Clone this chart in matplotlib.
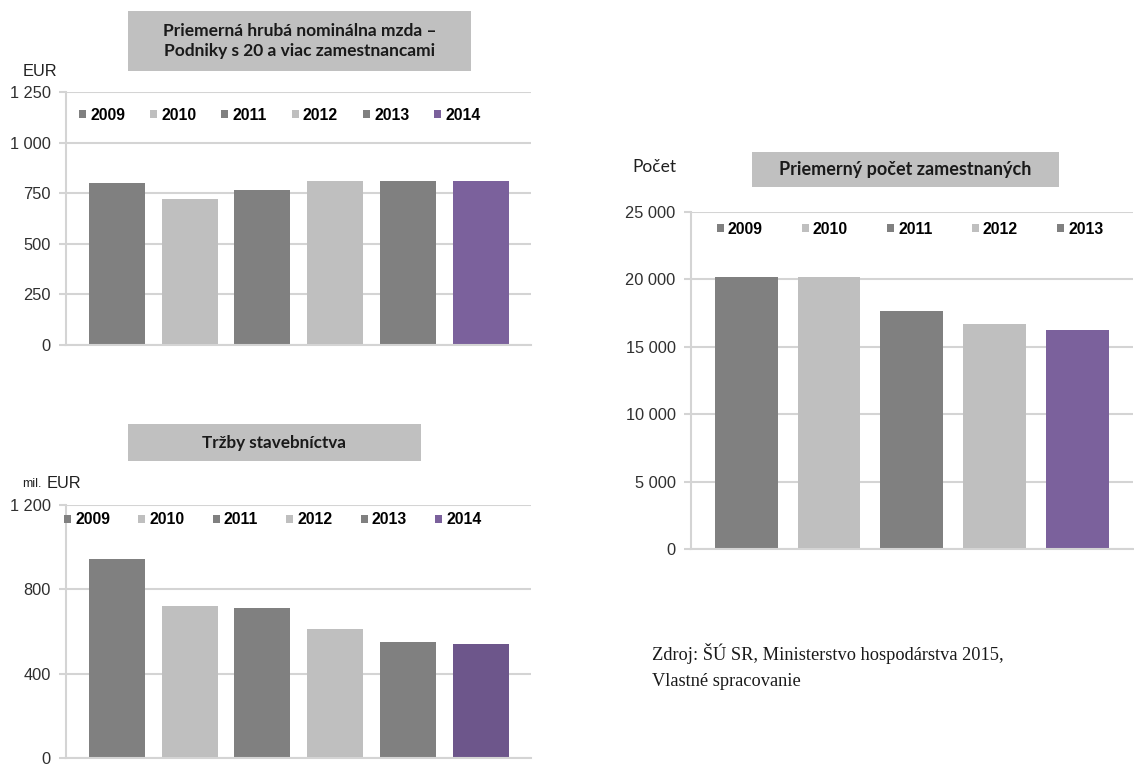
import numpy as np
import matplotlib.pyplot as plt
from matplotlib.patches import Rectangle, Patch
from matplotlib.ticker import FuncFormatter

# Data
years6 = ["2009", "2010", "2011", "2012", "2013", "2014"]
wage = [802, 720, 764, 811, 811, 811]            # EUR
sales = [946, 719, 713, 612, 552, 540]           # mil. EUR
years5 = ["2009", "2010", "2011", "2012", "2013"]
employees = [20150, 20150, 17680, 16690, 16270]  # count

DARK = "#808080"
LIGHT = "#bfbfbf"
PURPLE = "#7b619c"
PURPLE2 = "#6d568b"
GRID = "#d4d4d4"

W, H = 1134, 764
fig = plt.figure(figsize=(W / 100, H / 100), dpi=100)


def px_axes(left, top, right, bottom):
    return fig.add_axes([left / W, 1 - bottom / H, (right - left) / W, (bottom - top) / H])


def space_fmt(v, pos):
    return f"{int(round(v)):,}".replace(",", " ")


def style(ax, ticks, ylim):
    ax.set_ylim(*ylim)
    ax.set_yticks(ticks)
    ax.yaxis.set_major_formatter(FuncFormatter(space_fmt))
    ax.yaxis.grid(True, color=GRID, linewidth=1.5)
    ax.set_axisbelow(True)
    for s in ["top", "right"]:
        ax.spines[s].set_visible(False)
    for s in ["left", "bottom"]:
        ax.spines[s].set_color(GRID)
        ax.spines[s].set_linewidth(1.5)
    ax.set_xticks([])
    ax.tick_params(axis="y", length=5, width=1.5, color=GRID, labelsize=11.8,
                   labelcolor="#303030", pad=6)
    for lab in ax.get_yticklabels():
        lab.set_family("Liberation Sans")


def legend(ax, colors, labels, x, y, spacing):
    handles = [Patch(facecolor=c, edgecolor="none") for c in colors]
    ax.legend(handles, labels, ncol=len(labels), loc="center left",
              bbox_to_anchor=(x, y), frameon=False, borderpad=0, borderaxespad=0,
              handlelength=0.45, handleheight=0.45, handletextpad=0.25,
              columnspacing=spacing,
              prop={"family": "Liberation Sans", "weight": "bold", "size": 11.3})


def title_box(left, top, right, bottom, text, size=12.5):
    fig.add_artist(Rectangle((left / W, 1 - bottom / H), (right - left) / W, (bottom - top) / H,
                             transform=fig.transFigure, facecolor="#c0c0c0", edgecolor="none"))
    fig.text((left + right) / 2 / W, 1 - (top + bottom) / 2 / H, text, ha="center", va="center",
             family="Lato", weight="bold", fontsize=size, color="#1a1a1a", linespacing=1.25)


# Top-left: wages
ax1 = px_axes(66, 92, 531, 345)
x6 = np.arange(len(years6))
ax1.bar(x6, wage, width=0.77, color=[DARK, LIGHT, DARK, LIGHT, DARK, PURPLE])
ax1.set_xlim(-0.70, 5.69)
style(ax1, [0, 250, 500, 750, 1000, 1250], (0, 1250))
legend(ax1, [DARK, LIGHT, DARK, LIGHT, DARK, PURPLE], years6, 0.028, 0.909, 1.6)
title_box(128, 11, 471, 71, "Priemerná hrubá nominálna mzda –\nPodniky s 20 a viac zamestnancami", 12.5)
fig.text(23 / W, 1 - 71 / H, "EUR", ha="left", va="center", family="Liberation Sans",
         fontsize=11.8, color="#202020")

# Bottom-left: construction sales
ax2 = px_axes(66, 505, 531, 758)
ax2.bar(x6, sales, width=0.77, color=[DARK, LIGHT, DARK, LIGHT, DARK, PURPLE2])
ax2.set_xlim(-0.70, 5.69)
style(ax2, [0, 400, 800, 1200], (0, 1200))
legend(ax2, [DARK, LIGHT, DARK, LIGHT, DARK, PURPLE], years6, -0.004, 0.941, 1.8)
title_box(128, 424, 421, 461, "Tržby stavebníctva", 12.3)
fig.text(22 / W, 1 - 484 / H, "mil.", ha="left", va="center", family="Liberation Sans",
         fontsize=9, color="#202020")
fig.text(47 / W, 1 - 483 / H, "EUR", ha="left", va="center", family="Liberation Sans",
         fontsize=11.8, color="#202020")

# Right: employees
ax3 = px_axes(691, 212, 1133, 549)
x5 = np.arange(len(years5))
ax3.bar(x5, employees, width=0.76, color=[DARK, LIGHT, DARK, LIGHT, PURPLE])
ax3.set_xlim(-0.668, 4.673)
style(ax3, [0, 5000, 10000, 15000, 20000, 25000], (0, 25000))
legend(ax3, [DARK, LIGHT, DARK, LIGHT, DARK], years5, 0.058, 0.949, 2.5)
title_box(752, 152, 1059, 187, "Priemerný počet zamestnaných", 13.0)
fig.text(632 / W, 1 - 167 / H, "Počet", ha="left", va="center", family="Lato",
         fontsize=12.5, color="#202020")

# Source note
fig.text(652 / W, 1 - 653 / H, "Zdroj: ŠÚ SR, Ministerstvo hospodárstva 2015,", ha="left",
         va="center", family="Liberation Serif", fontsize=13.2, color="#1a1a1a")
fig.text(652 / W, 1 - 681 / H, "Vlastné spracovanie", ha="left",
         va="center", family="Liberation Serif", fontsize=13.2, color="#1a1a1a")

fig.savefig("out.png", dpi=100, facecolor="white")
